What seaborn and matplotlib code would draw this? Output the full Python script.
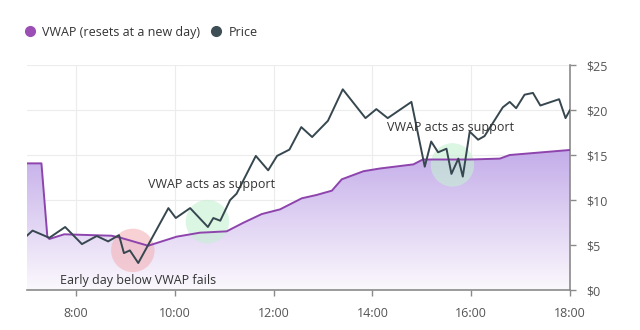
import numpy as np
import pandas as pd
import matplotlib
matplotlib.use("Agg")
import matplotlib.pyplot as plt
from matplotlib.colors import LinearSegmentedColormap
from matplotlib.lines import Line2D
import seaborn as sns

# Intraday price (hour of day, $)
price_hours = [7.00, 7.12, 7.46, 7.78, 8.12, 8.42, 8.65, 8.87, 8.97, 9.09, 9.26,
               9.87, 10.02, 10.31, 10.67, 10.78, 10.92, 11.12, 11.25, 11.64, 11.89,
               12.07, 12.32, 12.56, 12.78, 13.10, 13.40, 13.86, 14.08, 14.31, 14.79,
               15.06, 15.19, 15.33, 15.50, 15.60, 15.74, 15.83, 15.97, 16.14, 16.27,
               16.64, 16.78, 16.91, 17.08, 17.25, 17.40, 17.78, 17.91, 18.00]
price_values = [6.0, 6.6, 5.8, 7.0, 5.1, 6.0, 5.4, 6.1, 4.1, 4.4, 3.0,
                9.1, 8.0, 9.1, 7.0, 8.0, 7.7, 10.0, 10.7, 14.9, 13.3,
                14.9, 15.6, 18.1, 17.0, 18.8, 22.3, 19.1, 20.1, 19.1, 20.9,
                13.7, 16.5, 15.3, 15.7, 12.9, 14.6, 12.6, 17.6, 16.7, 17.1,
                20.3, 20.9, 20.2, 21.7, 21.9, 20.5, 21.2, 19.1, 20.0]

# VWAP, carried over from the prior session until the new day's first trades
vwap_hours = [7.00, 7.30, 7.42, 7.46, 7.76, 8.72, 8.90, 9.46, 10.04, 10.51, 10.67,
              11.05, 11.39, 11.76, 12.13, 12.57, 12.87, 13.18, 13.38, 13.82, 14.15,
              14.83, 15.02, 15.97, 16.58, 16.78, 18.00]
vwap_values = [14.07, 14.07, 5.9, 5.67, 6.19, 6.03, 5.81, 4.92, 5.93, 6.37, 6.41,
               6.52, 7.48, 8.44, 8.96, 10.19, 10.56, 11.04, 12.3, 13.2, 13.5,
               13.96, 14.5, 14.5, 14.6, 15.0, 15.56]

# Highlighted zones: (hour, $, kind)
zone_hours = [9.15, 10.66, 15.62]
zone_values = [4.4, 7.6, 13.9]
zone_kinds = ["fail", "support", "support"]

# Notes
note_texts = ["Early day below VWAP fails", "VWAP acts as support", "VWAP acts as support"]
note_hours = [7.68, 9.45, 14.30]
note_values = [1.1, 11.7, 18.1]

x_ticks = [8, 10, 12, 14, 16, 18]
y_ticks = [0, 5, 10, 15, 20, 25]

VWAP_COLOR = "#8e44ad"
PRICE_COLOR = "#37474f"

sns.set_theme(style="white")
plt.rcParams["font.family"] = ["Open Sans", "DejaVu Sans"]

price_df = pd.DataFrame({"hour": price_hours, "value": price_values})
vwap_df = pd.DataFrame({"hour": vwap_hours, "value": vwap_values})

fig = plt.figure(figsize=(6.4, 3.3), dpi=100)
ax = fig.add_axes([0.0416, 0.1212, 0.8490, 0.6818])

# Gradient fill beneath VWAP
poly = ax.fill_between(vwap_df["hour"], vwap_df["value"], 0, color="none", lw=0)
grad_cmap = LinearSegmentedColormap.from_list("vw", ["#fbf8fd", "#c4ade9"])
grad = np.linspace(0, 1, 256).reshape(-1, 1)
img = ax.imshow(grad, cmap=grad_cmap, aspect="auto", origin="lower",
                extent=[7, 18, 0, 15.5], zorder=1, vmin=0, vmax=1)
img.set_clip_path(poly.get_paths()[0], transform=ax.transData)

# Zone highlights
zone_colors = {"fail": "#f3b3b8", "support": "#c6f0d3"}
for h, v, k in zip(zone_hours, zone_values, zone_kinds):
    ax.scatter([h], [v], s=980, color=zone_colors[k], alpha=0.6,
               edgecolor="none", zorder=2)

sns.lineplot(data=vwap_df, x="hour", y="value", ax=ax, color=VWAP_COLOR,
             lw=1.4, zorder=3, estimator=None, sort=False)
sns.lineplot(data=price_df, x="hour", y="value", ax=ax, color=PRICE_COLOR,
             lw=1.4, zorder=4, estimator=None, sort=False)

for t, h, v in zip(note_texts, note_hours, note_values):
    ax.text(h, v, t, fontsize=9, color="#333333", va="center", ha="left", zorder=5)

ax.set_xlim(7, 18)
ax.set_ylim(0, 25)
ax.set_xticks(x_ticks)
ax.set_xticklabels([f"{h}:00" for h in x_ticks])
ax.set_yticks(y_ticks)
ax.set_yticklabels([f"${v}" for v in y_ticks])
ax.yaxis.tick_right()
ax.set_xlabel("")
ax.set_ylabel("")
ax.grid(True, color="#ececec", lw=0.8, zorder=0)
ax.set_axisbelow(True)
for side in ["left", "top"]:
    ax.spines[side].set_visible(False)
for side in ["right", "bottom"]:
    ax.spines[side].set_color("#8a8a8a")
    ax.spines[side].set_linewidth(1.2)
ax.tick_params(axis="both", which="both", length=4, width=1, color="#8a8a8a",
               labelsize=9, labelcolor="#555555", pad=8)
ax.tick_params(axis="y", right=True, left=False, labelright=True, labelleft=False)
ax.tick_params(axis="x", bottom=True)

handles = [
    Line2D([], [], marker="o", ls="", color="#9b4fb5", markersize=7),
    Line2D([], [], marker="o", ls="", color="#3d4f55", markersize=7),
]
fig.legend(handles, ["VWAP (resets at a new day)", "Price"], loc="center left",
           bbox_to_anchor=(0.023, 0.903), ncol=2, frameon=False, fontsize=9,
           handlelength=1.0, handletextpad=0.52, columnspacing=0.76,
           labelcolor="#333333", borderpad=0.2)

fig.savefig("out.png", dpi=100)
